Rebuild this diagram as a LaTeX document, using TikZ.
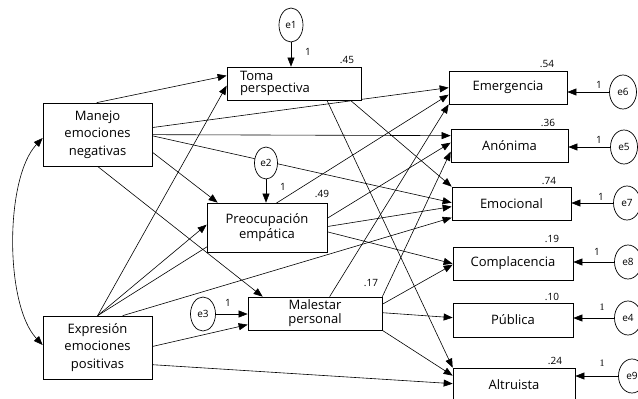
\documentclass[tikz,border=0pt]{standalone}
\usepackage{fontspec}
\setmainfont{Open Sans}
\newfontfamily\serifone{Liberation Serif}
\usetikzlibrary{arrows.meta,calc,shapes.geometric}
\pgfdeclarelayer{background}
\pgfsetlayers{background,main}
\begin{document}
\begin{tikzpicture}[x=1pt,y=-1pt,
  box/.style={draw,fill=white,line width=0.7pt,inner sep=0pt,font=\fontsize{13}{17.5}\selectfont,align=center},
  err/.style={ellipse,draw,fill=white,inner sep=0pt,line width=0.7pt,font=\fontsize{10}{12}\selectfont},
  arr/.style={-{Triangle[length=9pt,width=7pt]},line width=0.6pt},
  lab/.style={font=\fontsize{10}{12}\selectfont,inner sep=0pt}
]
\useasboundingbox (0,0) rectangle (638,399);

% boxes
\node[box, minimum width=109pt, minimum height=63pt] (man) at (97.5,134.5) {Manejo\\emociones\\negativas};
\node[box, minimum width=109pt, minimum height=63pt] (exp) at (97.5,347.5) {Expresión\\emociones\\positivas};
\node[box, minimum width=134pt, minimum height=33pt, text width=108pt, inner xsep=13pt, align=left, font=\fontsize{13}{12}\selectfont] (toma) at (294,83.5) {Toma\\perspectiva};
\node[box, minimum width=120pt, minimum height=49pt, font=\fontsize{13}{15}\selectfont] (preo) at (267,227.5) {Preocupación\\empática};
\node[box, minimum width=134pt, minimum height=33pt, font=\fontsize{13}{14}\selectfont] (mal) at (315,313.5) {Malestar\\personal};
\node[box, minimum width=118pt, minimum height=33pt] (emer) at (508,87.5) {Emergencia};
\node[box, minimum width=117pt, minimum height=33pt] (anon) at (509.5,145.5) {Anónima};
\node[box, minimum width=119pt, minimum height=33pt] (emoc) at (511.5,203.5) {Emocional};
\node[box, minimum width=120pt, minimum height=33pt] (comp) at (513,263.5) {Complacencia};
\node[box, minimum width=120pt, minimum height=34pt] (pub) at (513,320) {Pública};
\node[box, minimum width=122pt, minimum height=34pt] (alt) at (514,385) {Altruista};

% error terms
\node[err, minimum width=24pt, minimum height=34pt] (e1) at (291,25) {e1};
\node[err, minimum width=23pt, minimum height=32pt] (e2) at (266,163) {e2};
\node[err, minimum width=25pt, minimum height=34pt] (e3) at (203,314) {e3};
\node[err, minimum width=27pt, minimum height=34pt] (e6) at (623,92) {e6};
\node[err, minimum width=27pt, minimum height=34pt] (e5) at (624,147) {e5};
\node[err, minimum width=27pt, minimum height=34pt] (e7) at (627,203) {e7};
\node[err, minimum width=27pt, minimum height=34pt] (e8) at (628,262) {e8};
\node[err, minimum width=27pt, minimum height=34pt] (e4) at (628,318) {e4};
\node[err, minimum width=27pt, minimum height=34pt] (e9) at (632,376) {e9};

\begin{pgfonlayer}{background}
\draw[arr] ($(man.north west)+(54,0)$) -- ($(toma.north west)+(0,9)$);
\draw[arr] ($(man.north west)+(109,25)$) -- ($(emer.north west)+(0,17)$);
\draw[arr] ($(man.north west)+(109,32)$) -- ($(anon.north west)+(0,7)$);
\draw[arr] ($(man.north west)+(109,33)$) -- ($(emoc.north west)+(0,16)$);
\draw[arr] ($(man.north west)+(109,49)$) -- ($(preo.north west)+(11,0)$);
\draw[arr] ($(man.north west)+(54,63)$) -- ($(mal.north west)+(15,0)$);
\draw[arr] ($(exp.north west)+(55,0)$) -- ($(toma.north west)+(0,19)$);
\draw[arr] ($(exp.north west)+(55,0)$) -- ($(preo.north west)+(0,22)$);
\draw[arr] ($(exp.north west)+(55,0)$) -- ($(emer.north west)+(0,24)$);
\draw[arr] ($(exp.north west)+(80,0)$) -- ($(emoc.north west)+(0,31)$);
\draw[arr] ($(exp.north west)+(109,31)$) -- ($(mal.north west)+(0,28)$);
\draw[arr] ($(exp.north west)+(109,49)$) -- ($(alt.north west)+(0,16)$);
\draw[arr] ($(toma.north west)+(123,33)$) -- (emoc.north west);
\draw[arr] ($(toma.north west)+(100,33)$) -- (alt.north west);
\draw[arr] ($(preo.north west)+(120,16)$) -- ($(anon.north west)+(0,14)$);
\draw[arr] ($(preo.north west)+(120,24)$) -- ($(emoc.north west)+(0,20)$);
\draw[arr] ($(preo.north west)+(120,29)$) -- ($(comp.north west)+(0,17)$);
\draw[arr] ($(mal.north west)+(82,0)$) -- (emer.south west);
\draw[arr] (mal.north east) -- ($(anon.north west)+(0,23)$);
\draw[arr] ($(mal.north west)+(134,8)$) -- ($(comp.north west)+(0,18)$);
\draw[arr] ($(mal.north west)+(134,16)$) -- ($(pub.north west)+(0,15)$);
\draw[arr] (mal.south east) -- ($(alt.north west)+(0,8)$);
\end{pgfonlayer}

% error arrows
\draw[arr] (e1.south) -- (e1.south |- toma.north);
\draw[arr] (e2.south) -- (e2.south |- preo.north);
\draw[arr] (e3.east) -- (e3.east -| mal.west);
\draw[arr] (e6.west) -- (e6.west -| emer.east);
\draw[arr] (e5.west) -- (e5.west -| anon.east);
\draw[arr] (e7.west) -- (e7.west -| emoc.east);
\draw[arr] (e8.west) -- (e8.west -| comp.east);
\draw[arr] (e4.west) -- (e4.west -| pub.east);
\draw[arr] (e9.west) -- (e9.west -| alt.east);

% covariance
\draw[{Triangle[length=9pt,width=7pt]}-{Triangle[length=9pt,width=7pt]}, line width=0.6pt]
  ([yshift=-3.5pt]man.west) .. controls +(-38,40) and +(-38,-40) .. ([yshift=2.5pt]exp.west);

% R2 labels
\node[lab] (r1) at (347,60) {.45};
\node[lab] (r2) at (547,64) {.54};
\node[lab] (r3) at (548,123) {.36};
\node[lab] (r4) at (549,181) {.74};
\node[lab] (r5) at (552,239) {.19};
\node[lab] (r6) at (552,297) {.10};
\node[lab] (r7) at (555,361) {.24};
\node[lab] (r8) at (322,194) {.49};
\node[lab] (r9) at (371,283) {.17};

% path weights
\node[lab] (w1) at (308,52) {1};
\node[lab] (w2) at (283,187) {1};
\node[lab] (w3) at (228,303) {1};
\node[lab] (w6) at (599,85) {1};
\node[lab] (w5) at (599,140) {1};
\node[lab] (w7) at (601,197) {1};
\node[lab] (w8) at (597,252) {1};
\node[lab, font=\serifone\fontsize{10}{12}\selectfont] (w4) at (602,307) {1};
\node[lab, font=\serifone\fontsize{10}{12}\selectfont] (w9) at (602,363) {1};
\end{tikzpicture}
\end{document}
